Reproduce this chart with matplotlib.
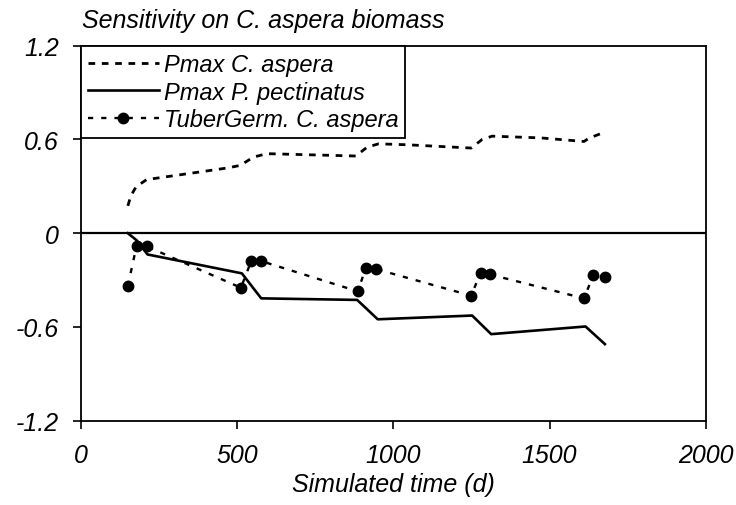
import matplotlib
matplotlib.use("Agg")
import matplotlib.pyplot as plt

plt.rcParams['font.family'] = ['Liberation Sans', 'DejaVu Sans']
plt.rcParams['font.style'] = 'italic'

# Pmax C. aspera
t_pc = [150, 160, 176, 210, 467, 510, 552, 595, 880, 916, 953, 1044, 1249, 1284, 1316, 1471, 1610, 1626, 1662]
v_pc = [0.175, 0.24, 0.296, 0.343, 0.417, 0.434, 0.487, 0.509, 0.494, 0.551, 0.572, 0.566, 0.545, 0.60, 0.621, 0.61, 0.587, 0.608, 0.636]

# Pmax P. pectinatus
t_pp = [150, 178, 213, 515, 577, 884, 950, 1252, 1313, 1615, 1677]
v_pp = [0.0, -0.045, -0.136, -0.257, -0.417, -0.427, -0.551, -0.527, -0.646, -0.597, -0.71]

# TuberGerm. C. aspera
t_tg = [150, 178, 210, 512, 545, 576, 886, 912, 945, 1249, 1279, 1309, 1610, 1640, 1676]
v_tg = [-0.338, -0.081, -0.084, -0.349, -0.178, -0.178, -0.372, -0.221, -0.230,
        -0.400, -0.253, -0.264, -0.417, -0.268, -0.280]

xticks = [0, 500, 1000, 1500, 2000]
yticks = [-1.2, -0.6, 0, 0.6, 1.2]
yticklabels = ["-1.2", "-0.6", "0", "0.6", "1.2"]

fig = plt.figure(figsize=(7.36, 5.06), dpi=100)
ax = fig.add_axes([0.110, 0.1666, 0.849, 0.7411])

ax.axhline(0, color="black", lw=1.6, zorder=1)
ax.plot(t_pc, v_pc, color="black", lw=2.0, dashes=(2.4, 2.4), label="Pmax C. aspera")
ax.plot(t_pp, v_pp, color="black", lw=1.9, label="Pmax P. pectinatus")
ax.plot(t_tg, v_tg, color="black", lw=1.7, dashes=(2.2, 3.4), marker="o", markersize=7.5,
        label="TuberGerm. C. aspera")

ax.set_xlim(0, 2000)
ax.set_ylim(-1.2, 1.2)
ax.set_xticks(xticks)
ax.set_xticklabels([str(x) for x in xticks])
ax.set_yticks(yticks)
ax.set_yticklabels(yticklabels)
ax.tick_params(direction="out", length=6, width=1.2, labelsize=18, pad=10)
for s in ax.spines.values():
    s.set_linewidth(1.3)

ax.set_xlabel("Simulated time (d)", fontsize=18, labelpad=4)
fig.text(0.112, 0.958, "Sensitivity on C. aspera biomass", fontsize=18, ha="left", va="center")

leg = ax.legend(loc="upper left", bbox_to_anchor=(0, 1), borderaxespad=0, fontsize=17,
                handlelength=3.0, handletextpad=0.2, labelspacing=0.2, borderpad=0.3,
                fancybox=False, framealpha=1, edgecolor="black")
leg.get_frame().set_linewidth(1.3)

fig.savefig("out.png", dpi=100)
